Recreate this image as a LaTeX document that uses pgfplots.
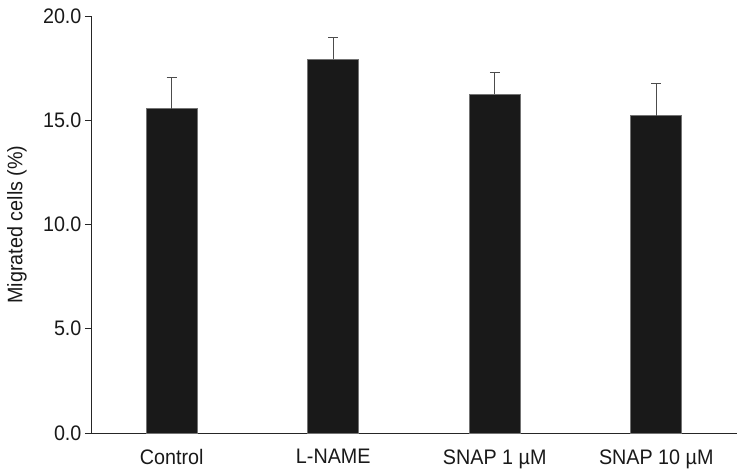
\documentclass[border=0pt]{standalone}
\usepackage{fontspec}
\setmainfont{Liberation Sans}[FakeStretch=0.94]
\usepackage{pgfplots}
\pgfplotsset{compat=1.18}
\begin{document}
\begin{tikzpicture}
\begin{axis}[
  scale only axis,
  width=646pt, height=417pt,
  xmin=0, xmax=4, ymin=0, ymax=20,
  axis x line=bottom, axis y line=left,
  axis line style={-, black!85, line width=0.8pt},
  tick align=outside,
  tick style={black!85, line width=0.8pt},
  ytick={0,5,10,15,20},
  major tick length=6pt,
  yticklabel style={/pgf/number format/.cd, fixed, fixed zerofill, precision=1},
  /pgf/number format/assume math mode=true,
  every tick label/.append style={font=\fontsize{21}{24}\selectfont, text=black!90},
  xtick={0.5,1.5,2.5,3.5},
  xticklabels={Control, L-NAME, SNAP 1 µM, SNAP 10 µM},
  x tick style={draw=none},
  xticklabel style={yshift=-7pt},
  extra x ticks={0,1,2,3,4},
  extra x tick labels={},
  extra x tick style={tick style={draw=black!85, line width=0.8pt}, major tick length=7pt},
  ylabel={Migrated cells (\%)},
  ylabel style={at={(axis description cs:-0.1146,0.5)}, anchor=center, font=\fontsize{21}{24}\selectfont, text=black!90},
  clip=false,
]
\addplot[ybar, bar width=51pt, fill=black!90, draw=black!55, line width=0.6pt,
  error bars/.cd, y dir=plus, y explicit,
  error bar style={black!70, line width=0.9pt},
  error mark options={rotate=90, mark size=5pt, black!70, line width=0.9pt}]
  coordinates {
  (0.5,15.56) +- (0,1.48)
  (1.5,17.92) +- (0,1.04)
  (2.5,16.24) +- (0,1.07)
  (3.5,15.22) +- (0,1.54)
  };
\end{axis}
\path (current axis.south west) ++(-91pt,-41pt) rectangle ++(741pt,474pt);
\end{tikzpicture}
\end{document}
